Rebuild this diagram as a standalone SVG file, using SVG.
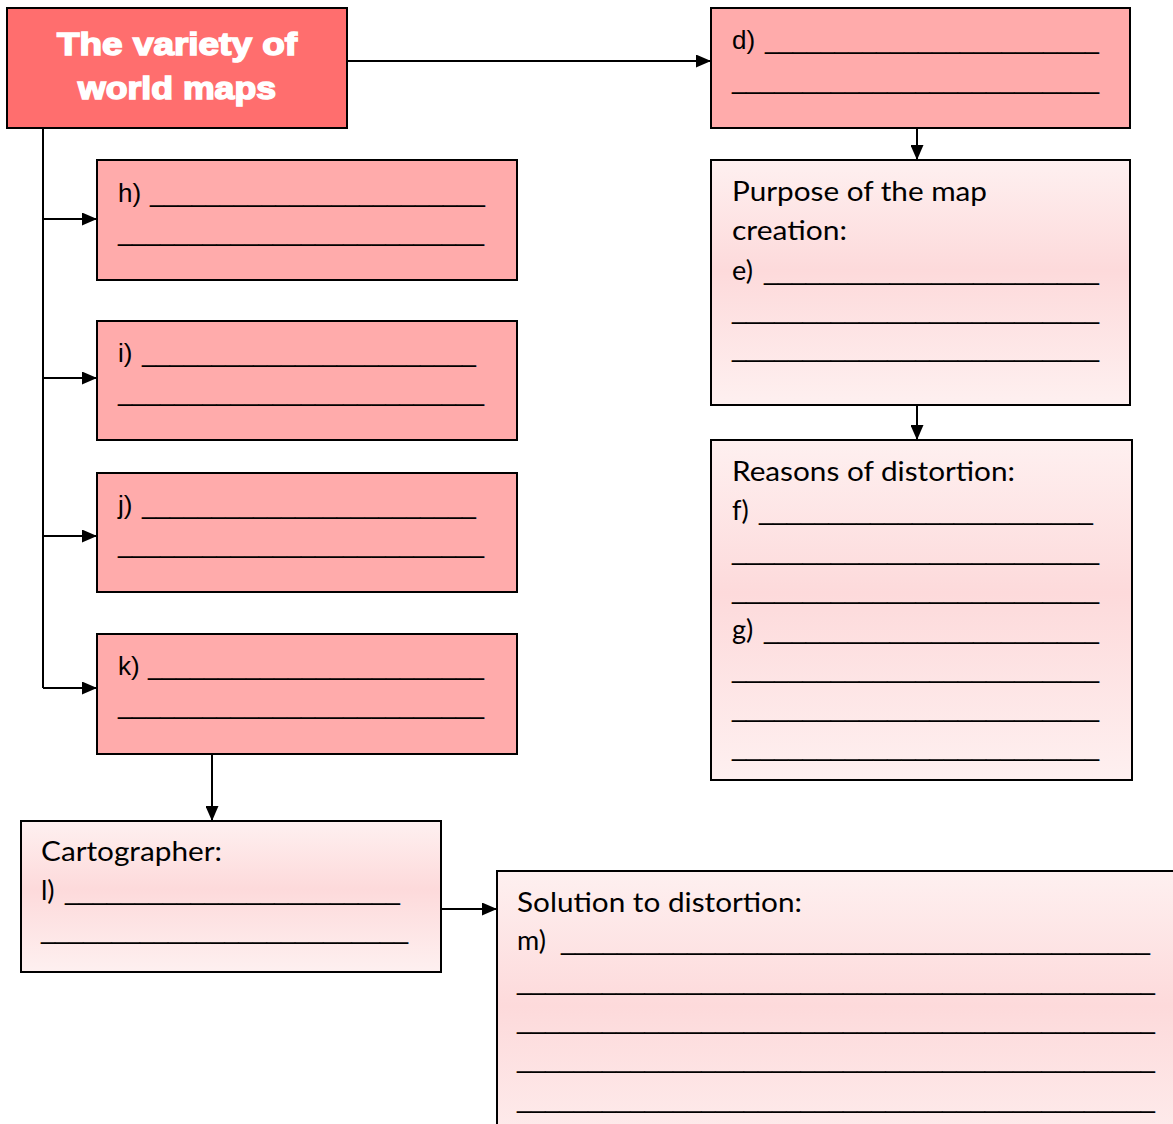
<svg xmlns="http://www.w3.org/2000/svg" width="1173" height="1124" viewBox="0 0 1173 1124">
<defs>
<linearGradient id="lg" x1="0" y1="0" x2="0" y2="1">
<stop offset="0" stop-color="#FEF0F0"/>
<stop offset="0.45" stop-color="#FDDADB"/>
<stop offset="1" stop-color="#FEF0F0"/>
</linearGradient>
<marker id="ah" markerWidth="15" markerHeight="13" refX="15" refY="6.5" orient="auto" markerUnits="userSpaceOnUse" viewBox="0 0 15 13">
<path d="M0,0 L15,6.5 L0,13 z" fill="#000"/>
</marker>
<style>
.box{stroke:#000;stroke-width:2}
.dark{fill:#FFABAB}
.light{fill:url(#lg)}
.title{fill:#FF6E6E}
.a{font-family:"Liberation Sans",Arial,sans-serif;font-size:26px;fill:#000}
.u{font-family:"Liberation Sans",Arial,sans-serif;font-size:26px;fill:#000}
.c{font-family:Lato,"Open Sans",sans-serif;font-size:27px;fill:#000}
.t{font-family:"Liberation Sans",Arial,sans-serif;font-weight:bold;font-size:32px;fill:#fff;stroke:#fff;stroke-width:1.6;text-anchor:middle}
.conn{stroke:#000;stroke-width:2;fill:none;marker-end:url(#ah)}
.trunk{stroke:#000;stroke-width:2;fill:none}
</style>
</defs>
<rect width="1173" height="1124" fill="#fff"/>
<g id="connectors">
<path class="conn" d="M347,61 H711"/>
<path class="conn" d="M917,128 V160"/>
<path class="conn" d="M917,405 V440"/>
<path class="trunk" d="M43,128 V688"/>
<path class="conn" d="M43,219 H97"/>
<path class="conn" d="M43,378 H97"/>
<path class="conn" d="M43,536 H97"/>
<path class="conn" d="M43,688 H97"/>
<path class="conn" d="M212,754 V821"/>
<path class="conn" d="M441,909 H497"/>
</g>
<g id="title">
<rect class="box title" x="7" y="8" width="340" height="120"/>
<text class="t" x="177" y="55" textLength="240" lengthAdjust="spacingAndGlyphs">The variety of</text>
<text class="t" x="177" y="99" textLength="198" lengthAdjust="spacingAndGlyphs">world maps</text>
</g>
<g id="node-d">
<rect class="box dark" x="711" y="8" width="419" height="120"/>
<text class="a" x="732" y="49">d)</text>
<text class="u" x="765" y="49" textLength="334" lengthAdjust="spacingAndGlyphs">________________________</text>
<text class="u" x="732" y="89" textLength="367" lengthAdjust="spacingAndGlyphs">__________________________</text>
</g>
<g id="node-purpose">
<rect class="box light" x="711" y="160" width="419" height="245"/>
<text class="c" x="732" y="201" textLength="255" lengthAdjust="spacingAndGlyphs">Purpose of the map</text>
<text class="c" x="732" y="240" textLength="115" lengthAdjust="spacingAndGlyphs">creation:</text>
<text class="c" x="732" y="280">e)</text>
<text class="u" x="764" y="280" textLength="335" lengthAdjust="spacingAndGlyphs">________________________</text>
<text class="u" x="732" y="319" textLength="367" lengthAdjust="spacingAndGlyphs">__________________________</text>
<text class="u" x="732" y="357" textLength="367" lengthAdjust="spacingAndGlyphs">__________________________</text>
</g>
<g id="node-reasons">
<rect class="box light" x="711" y="440" width="421" height="340"/>
<text class="c" x="732" y="481" textLength="283" lengthAdjust="spacingAndGlyphs">Reasons of distortion:</text>
<text class="c" x="732" y="520">f)</text>
<text class="u" x="759" y="520" textLength="334" lengthAdjust="spacingAndGlyphs">________________________</text>
<text class="u" x="732" y="560" textLength="367" lengthAdjust="spacingAndGlyphs">__________________________</text>
<text class="u" x="732" y="599" textLength="367" lengthAdjust="spacingAndGlyphs">__________________________</text>
<text class="c" x="732" y="639">g)</text>
<text class="u" x="764" y="639" textLength="335" lengthAdjust="spacingAndGlyphs">________________________</text>
<text class="u" x="732" y="678" textLength="367" lengthAdjust="spacingAndGlyphs">__________________________</text>
<text class="u" x="732" y="717" textLength="367" lengthAdjust="spacingAndGlyphs">__________________________</text>
<text class="u" x="732" y="756" textLength="367" lengthAdjust="spacingAndGlyphs">__________________________</text>
</g>
<g id="node-h">
<rect class="box dark" x="97" y="160" width="420" height="120"/>
<text class="a" x="118" y="202">h)</text>
<text class="u" x="150" y="202" textLength="335" lengthAdjust="spacingAndGlyphs">________________________</text>
<text class="u" x="118" y="241" textLength="366" lengthAdjust="spacingAndGlyphs">__________________________</text>
</g>
<g id="node-i">
<rect class="box dark" x="97" y="321" width="420" height="119"/>
<text class="a" x="118" y="362">i)</text>
<text class="u" x="142" y="362" textLength="334" lengthAdjust="spacingAndGlyphs">________________________</text>
<text class="u" x="118" y="401" textLength="366" lengthAdjust="spacingAndGlyphs">__________________________</text>
</g>
<g id="node-j">
<rect class="box dark" x="97" y="473" width="420" height="119"/>
<text class="a" x="118" y="514">j)</text>
<text class="u" x="142" y="514" textLength="334" lengthAdjust="spacingAndGlyphs">________________________</text>
<text class="u" x="118" y="553" textLength="366" lengthAdjust="spacingAndGlyphs">__________________________</text>
</g>
<g id="node-k">
<rect class="box dark" x="97" y="634" width="420" height="120"/>
<text class="a" x="118" y="675">k)</text>
<text class="u" x="148" y="675" textLength="336" lengthAdjust="spacingAndGlyphs">________________________</text>
<text class="u" x="118" y="714" textLength="366" lengthAdjust="spacingAndGlyphs">__________________________</text>
</g>
<g id="node-cartographer">
<rect class="box light" x="21" y="821" width="420" height="151"/>
<text class="c" x="41" y="861" textLength="181" lengthAdjust="spacingAndGlyphs">Cartographer:</text>
<text class="c" x="41" y="900">l)</text>
<text class="u" x="65" y="900" textLength="335" lengthAdjust="spacingAndGlyphs">________________________</text>
<text class="u" x="41" y="939" textLength="367" lengthAdjust="spacingAndGlyphs">__________________________</text>
</g>
<g id="node-solution">
<rect class="box light" x="497" y="871" width="700" height="300"/>
<text class="c" x="517" y="912" textLength="285" lengthAdjust="spacingAndGlyphs">Solution to distortion:</text>
<text class="c" x="517" y="950">m)</text>
<text class="u" x="561" y="950" textLength="589" lengthAdjust="spacingAndGlyphs">__________________________________________</text>
<text class="u" x="517" y="990" textLength="638" lengthAdjust="spacingAndGlyphs">_____________________________________________</text>
<text class="u" x="517" y="1029" textLength="638" lengthAdjust="spacingAndGlyphs">_____________________________________________</text>
<text class="u" x="517" y="1068" textLength="638" lengthAdjust="spacingAndGlyphs">_____________________________________________</text>
<text class="u" x="517" y="1108" textLength="638" lengthAdjust="spacingAndGlyphs">_____________________________________________</text>
</g>
</svg>
